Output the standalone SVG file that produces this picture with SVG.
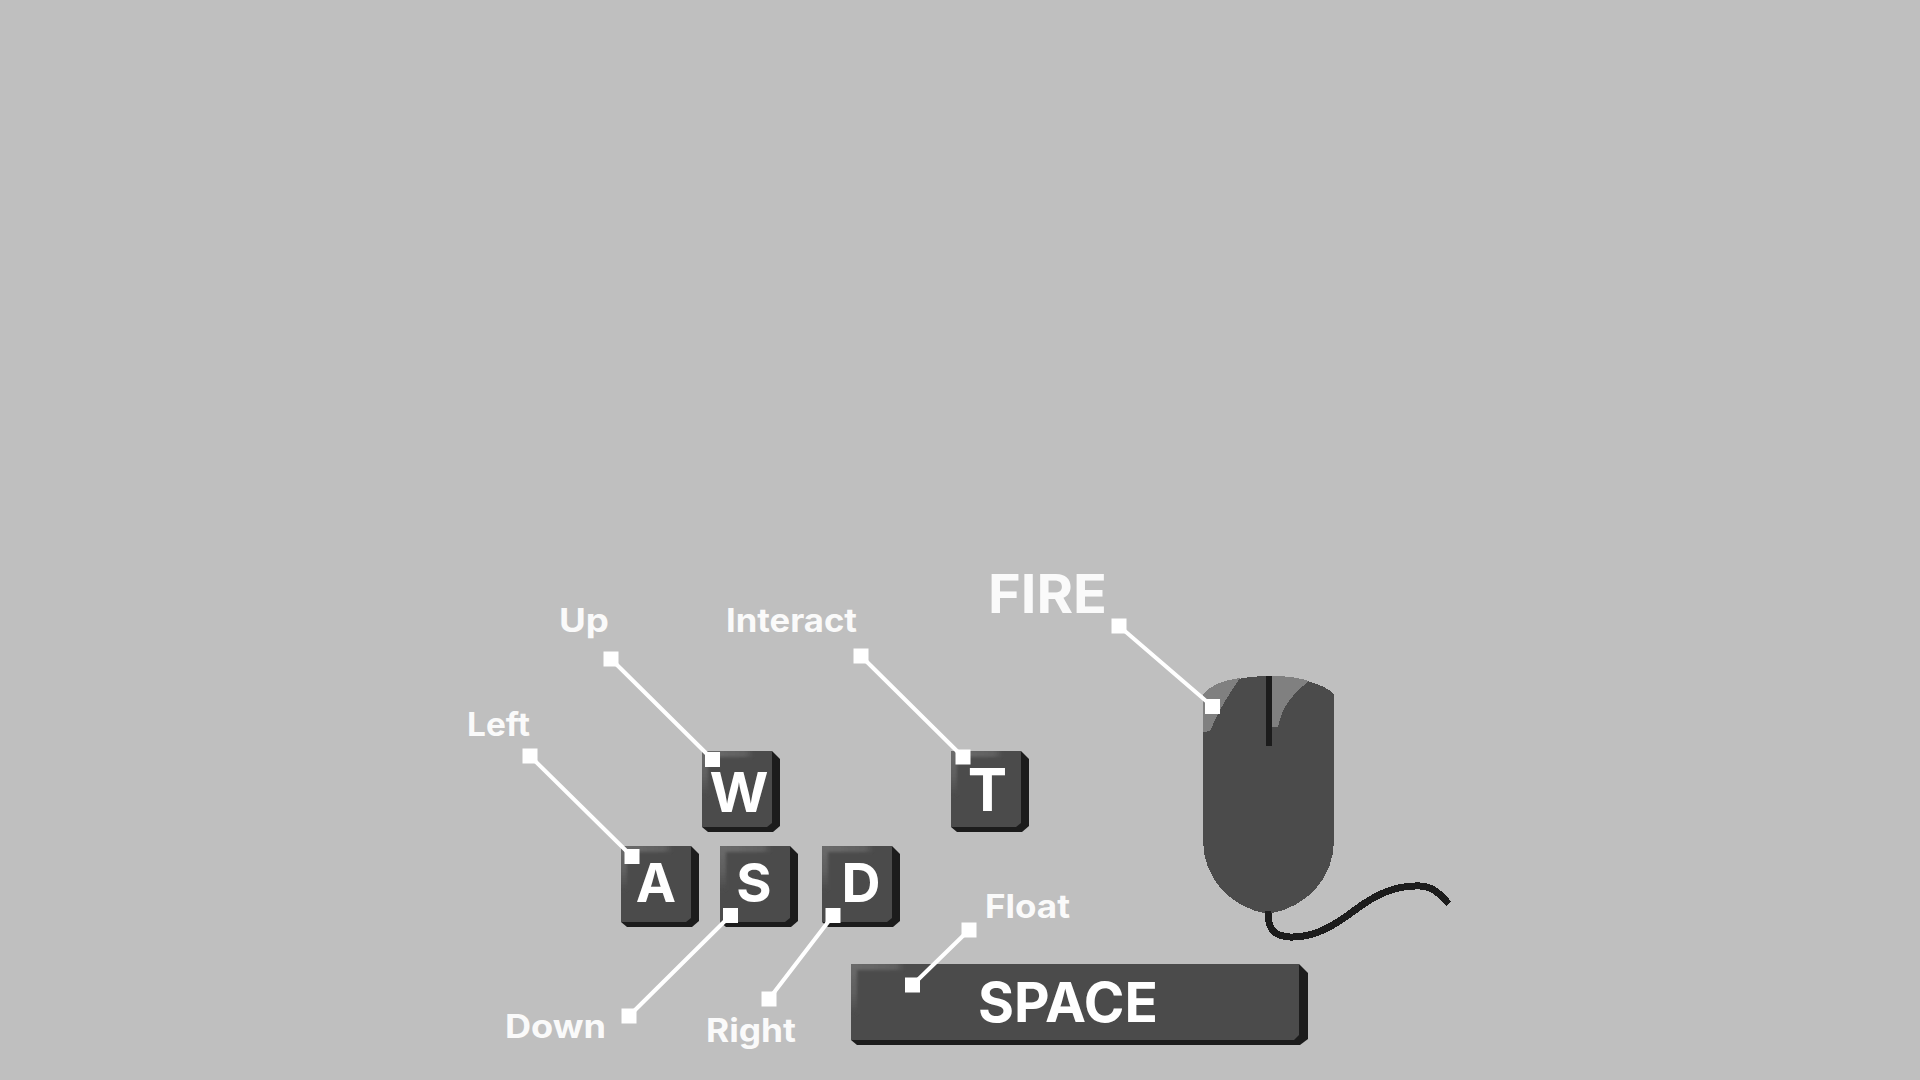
<svg xmlns="http://www.w3.org/2000/svg" width="1920" height="1080" viewBox="0 0 1920 1080">
<style>
text{font-family:"Inter","Liberation Sans",sans-serif;text-anchor:middle;fill:#fff}
.lb{font-size:32px;font-weight:650;fill:#fafafa;text-anchor:start}
.k{font-size:54px;font-weight:700}
.face{fill:#4b4b4b}
.side{fill:#1c1c1c}
.line{stroke:#fff;stroke-width:4;fill:none}
.pt{fill:#fff}
</style>
<defs>
<filter id="soft" x="-20%" y="-20%" width="140%" height="140%"><feGaussianBlur stdDeviation="1.6"/></filter>
<linearGradient id="hT" x1="0" y1="0" x2="1" y2="0"><stop offset="0" stop-color="#6c6c6c"/><stop offset=".85" stop-color="#606060"/><stop offset="1" stop-color="#505050"/></linearGradient>
<linearGradient id="hL" x1="0" y1="0" x2="0" y2="1"><stop offset="0" stop-color="#6c6c6c"/><stop offset=".6" stop-color="#5e5e5e"/><stop offset="1" stop-color="#4b4b4b"/></linearGradient>
<clipPath id="kc"><rect width="70" height="76"/></clipPath>
<clipPath id="sc"><rect x="851" y="964" width="448" height="76"/></clipPath>
<g id="key">
<path class="side" d="M0 0H70L78 8V75L71 81H6L0 76Z"/>
<path class="face" d="M0 0H70V72L65 76H0Z"/>
<g clip-path="url(#kc)"><g filter="url(#soft)">
<rect x="-2" y="-2" width="52" height="8" fill="url(#hT)"/>
<rect x="-2" y="-2" width="8" height="46" fill="url(#hL)"/>
</g></g>
</g>
<rect id="pt" x="-7.5" y="-7.5" width="15" height="15" class="pt"/>
</defs>
<rect width="1920" height="1080" fill="#bfbfbf"/>
<g id="key-w"><use href="#key" x="702" y="751"/><text class="k" x="739" y="812" style="font-size:55px" textLength="59" lengthAdjust="spacingAndGlyphs">W</text></g>
<g id="key-t"><use href="#key" x="951" y="751"/><text class="k" x="987.5" y="811" style="font-size:59px">T</text></g>
<g id="key-a"><use href="#key" x="621" y="846"/><text class="k" x="656" y="902">A</text></g>
<g id="key-s"><use href="#key" x="720" y="846"/><text class="k" x="754" y="902">S</text></g>
<g id="key-d"><use href="#key" x="822" y="846"/><text class="k" x="861" y="902">D</text></g>
<g id="key-space">
<path class="side" d="M851 964H1299L1308 973V1039L1300 1045H857L851 1040Z"/>
<path class="face" d="M851 964H1299V1035L1294 1040H851Z"/>
<g clip-path="url(#sc)"><g filter="url(#soft)">
<rect x="849" y="962" width="54" height="8" fill="url(#hT)"/>
<rect x="849" y="962" width="8" height="52" fill="url(#hL)"/>
</g></g>
<text x="1068" y="1022" style="font-size:55px;font-weight:700">SPACE</text>
</g>
<g id="mouse" shape-rendering="crispEdges">
<path d="M1268 911C1268 930 1274 936 1290 937C1315 938 1335 925 1355 910C1375 895 1395 885 1420 886C1435 887 1440 895 1449 904" fill="none" stroke="#1c1c1c" stroke-width="7"/>
<path class="face" d="M1203 694C1215 682 1245 676 1268 676C1292 676 1322 682 1334 694V840C1334 880 1305 908 1268 914C1232 908 1203 880 1203 840Z"/>
<path d="M1268 911V916" stroke="#1c1c1c" stroke-width="6"/>
<path fill="#808080" d="M1203 694C1212 684 1225 680 1240 678C1228 695 1218 712 1210 731L1203 732Z"/>
<path fill="#808080" d="M1272 676C1288 676 1300 678 1309 681C1295 692 1282 705 1278 727L1272 727Z"/>
<rect class="side" x="1266" y="676" width="6" height="70"/>
</g>
<g id="connectors">
<path class="line" d="M611 659L712.5 759.5M530 756L632 856.5M861 656L963 757M1119 626L1212.5 706.5M730.5 915.5L629 1016M833 915.5L769 999M969 930L912.5 985"/>
<use href="#pt" x="611" y="659"/><use href="#pt" x="712.5" y="759.5"/>
<use href="#pt" x="530" y="756"/><use href="#pt" x="632" y="856.5"/>
<use href="#pt" x="861" y="656"/><use href="#pt" x="963" y="757"/>
<use href="#pt" x="1119" y="626"/><use href="#pt" x="1212.5" y="706.5"/>
<use href="#pt" x="730.5" y="915.5"/><use href="#pt" x="629" y="1016"/>
<use href="#pt" x="833" y="915.5"/><use href="#pt" x="769" y="999"/>
<use href="#pt" x="969" y="930"/><use href="#pt" x="912.5" y="985"/>
</g>
<g id="labels">
<text class="lb" x="559" y="632" textLength="50" lengthAdjust="spacingAndGlyphs">Up</text>
<text class="lb" x="726" y="632" textLength="131" lengthAdjust="spacingAndGlyphs">Interact</text>
<text class="lb" x="467" y="736" textLength="63" lengthAdjust="spacingAndGlyphs">Left</text>
<text class="lb" x="505" y="1038" textLength="101" lengthAdjust="spacingAndGlyphs">Down</text>
<text class="lb" x="706" y="1042" textLength="90" lengthAdjust="spacingAndGlyphs">Right</text>
<text class="lb" x="985" y="918" textLength="85" lengthAdjust="spacingAndGlyphs">Float</text>
<text x="988" y="612.5" style="font-size:53px;font-weight:700;text-anchor:start;fill:#fafafa" textLength="119" lengthAdjust="spacingAndGlyphs">FIRE</text>
</g>
</svg>
